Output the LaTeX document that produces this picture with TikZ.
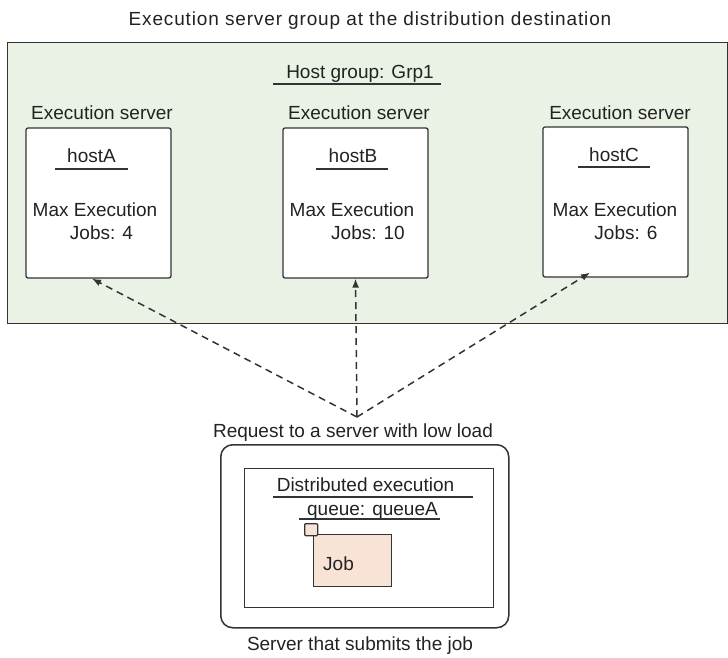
\documentclass[tikz,border=0pt]{standalone}
\usepackage{fontspec}
\setmainfont{Liberation Sans}
\usetikzlibrary{arrows.meta,calc}
\definecolor{grpgreen}{HTML}{EAF1E5}
\definecolor{jobpink}{HTML}{F9E3D6}
\definecolor{edgec}{HTML}{333333}
\definecolor{txt}{HTML}{222222}
\begin{document}
\begin{tikzpicture}[x=1pt,y=-1pt,
  font=\fontsize{19}{22}\selectfont,
  lbl/.style={anchor=base, inner sep=0pt, text=txt},
  srvbox/.style={draw=edgec, line width=1.3pt, fill=white, rounded corners=2pt,
     minimum width=145pt, minimum height=150pt, inner sep=0pt},
  uline/.style={draw=edgec, line width=1.6pt},
  req/.style={draw=edgec, line width=1.5pt, dash pattern=on 7pt off 5pt,
     -{Latex[length=9pt,width=7pt]}}
]
\useasboundingbox (0,0) rectangle (728,658);

% title
\node[lbl] (title) at (370,26) {\addfontfeature{LetterSpace=4.5}Execution server group at the distribution destination};

% host group area
\node[draw=edgec, line width=1.3pt, fill=grpgreen, anchor=north west,
      minimum width=720pt, minimum height=281pt, inner sep=0pt] (grp) at (7,42) {};
\node[lbl] (hg) at (360,79) {Host group: Grp1};
\coordinate (hgl) at (273,84);
\coordinate (hgr) at (441,84);
\draw[uline] (hgl) -- (hgr);

% servers
\node[srvbox] (A) at (98.5,203) {};
\node[srvbox] (B) at (355.5,203) {};
\node[srvbox] (C) at (615.5,202) {};

\node[lbl] (lA) at (102,120) {Execution server};
\node[lbl] (lB) at (359,120) {Execution server};
\node[lbl] (lC) at (620,120) {Execution server};

\node[lbl] (hA) at (91.5,162) {hostA};
\node[lbl] (hB) at (353,162) {hostB};
\node[lbl] (hC) at (614,161) {hostC};
\coordinate (uA1) at (55,169); \coordinate (uA2) at (128,169);
\coordinate (uB1) at (316,169); \coordinate (uB2) at (388,169);
\coordinate (uC1) at (578,167); \coordinate (uC2) at (650,167);
\draw[uline] (uA1) -- (uA2);
\draw[uline] (uB1) -- (uB2);
\draw[uline] (uC1) -- (uC2);

\node[lbl] (mA) at (95,216) {Max Execution};
\node[lbl] (mB) at (352,216) {Max Execution};
\node[lbl] (mC) at (615,216) {Max Execution};
\node[lbl] (jA) at (101.5,239) {Jobs: 4};
\node[lbl] (jB) at (368,239) {Jobs: 10};
\node[lbl] (jC) at (626,239) {Jobs: 6};

% requests
\coordinate (src) at (357,417);
\draw[req] (src) -- ([xshift=-6.5pt]A.south);
\draw[req] (src) -- (B.south);
\draw[req] (src) -- ([xshift=-25.5pt,yshift=5pt]C.south);

\node[lbl] (reqlbl) at (353,437) {Request to a server with low load};

% submitting server
\node[draw=edgec, line width=1.5pt, rounded corners=12pt, anchor=north west,
      minimum width=288pt, minimum height=183pt, inner sep=0pt] (sub) at (220,444) {};
\node[draw=edgec, line width=1.3pt, anchor=north west,
      minimum width=249pt, minimum height=139pt, inner sep=0pt] (q) at (244,468) {};
\node[lbl] (q1) at (365.5,491) {Distributed execution};
\coordinate (q1l) at (273,497); \coordinate (q1r) at (473,497);
\draw[uline] (q1l) -- (q1r);
\node[lbl] (q2) at (372.5,515) {queue: queueA};
\coordinate (q2l) at (299,519); \coordinate (q2r) at (440,519);
\draw[uline] (q2l) -- (q2r);

\node[draw=edgec, line width=1.3pt, fill=jobpink, anchor=north west,
      minimum width=78pt, minimum height=52pt, inner sep=0pt] (job) at (313,534) {};
\node[draw=edgec, line width=1.3pt, fill=jobpink, rounded corners=1pt, anchor=north west,
      minimum width=13pt, minimum height=12pt, inner sep=0pt] (tab) at (304,523) {};
\node[lbl] (jobl) at (338.5,570) {Job};

\node[lbl] (subl) at (360,650) {Server that submits the job};
\end{tikzpicture}
\end{document}
